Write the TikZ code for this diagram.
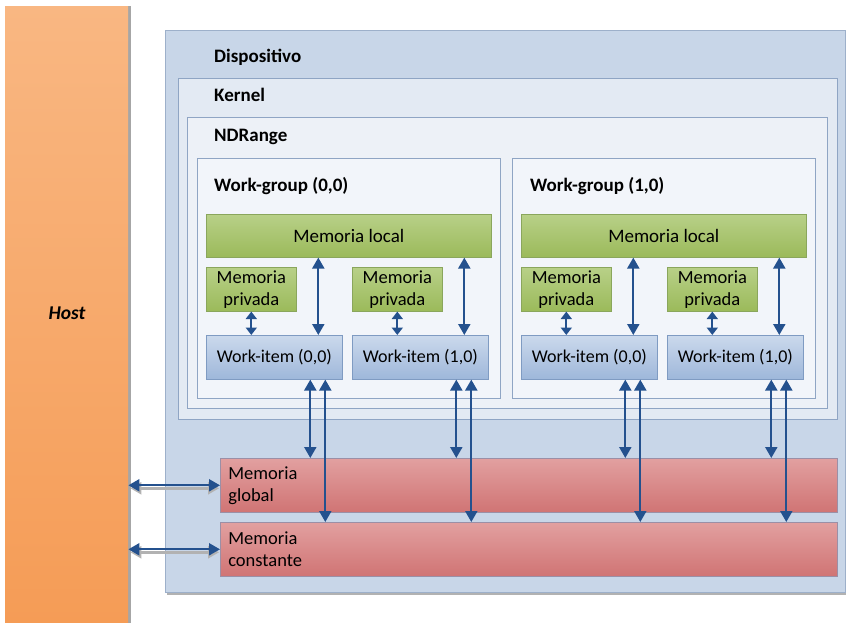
\documentclass[tikz,border=0pt]{standalone}
\usepackage{fontspec}
\setmainfont{Carlito}
\usetikzlibrary{arrows.meta,shadows}

\definecolor{arrowblue}{HTML}{24518E}
\definecolor{devfill}{HTML}{C8D6E8}
\definecolor{devdraw}{HTML}{9DB0CA}
\definecolor{kerfill}{HTML}{E3EAF3}
\definecolor{ndfill}{HTML}{EDF1F7}
\definecolor{wgfill}{HTML}{F2F5FA}
\definecolor{framedraw}{HTML}{8FA5C4}
\definecolor{greentop}{HTML}{B8D088}
\definecolor{greenbot}{HTML}{9BBA5A}
\definecolor{greendraw}{HTML}{8AA65C}
\definecolor{bluetop}{HTML}{CBD9EC}
\definecolor{bluebot}{HTML}{9EB7DA}
\definecolor{bluedraw}{HTML}{7F9BC2}
\definecolor{redtop}{HTML}{E2A0A0}
\definecolor{redbot}{HTML}{D07474}
\definecolor{reddraw}{HTML}{9B8FA6}
\definecolor{hosttop}{HTML}{F9B782}
\definecolor{hostbot}{HTML}{F59C56}

\tikzset{
  px/.style={x=1pt,y=-1pt},
  frame/.style={draw=framedraw,line width=0.6pt,anchor=north west,inner sep=0pt},
  greenbox/.style={draw=greendraw,line width=0.6pt,top color=greentop,bottom color=greenbot,
    inner sep=0pt,anchor=north west,align=center,font=\fontsize{19}{22}\selectfont},
  privbox/.style={greenbox,minimum width=90pt,minimum height=44pt,font=\fontsize{18.5}{22}\selectfont},
  itembox/.style={draw=bluedraw,line width=0.6pt,top color=bluetop,bottom color=bluebot,
    inner sep=0pt,anchor=north west,font=\fontsize{18}{21}\selectfont,
    minimum width=136pt,minimum height=44pt},
  membox/.style={draw=reddraw,line width=0.6pt,top color=redtop,bottom color=redbot,
    anchor=north west,inner xsep=8pt,inner ysep=0pt,text width=601pt,align=left,
    minimum height=54pt,font=\fontsize{18.5}{22}\selectfont},
  title/.style={anchor=west,inner sep=0pt,font=\bfseries\fontsize{19}{22}\selectfont},
  arr/.style={draw=arrowblue,line width=2.2pt,{Triangle[length=11pt,width=12pt]}-{Triangle[length=11pt,width=12pt]}},
  smallarr/.style={draw=arrowblue,line width=2.2pt,{Triangle[length=7.5pt,width=11pt]}-{Triangle[length=7.5pt,width=11pt]}},
  shadowarr/.style={draw=gray!60,line width=2.4pt,{Triangle[length=11pt,width=12pt]}-{Triangle[length=11pt,width=12pt]}},
}

\begin{document}
\begin{tikzpicture}[px]
\useasboundingbox (0,0) rectangle (846,623);

% host column
\node[anchor=north west,inner sep=0pt,minimum width=123pt,minimum height=617pt,
  top color=hosttop,bottom color=hostbot,
  drop shadow={shadow xshift=3pt,shadow yshift=0pt,fill=gray!70,opacity=1}] (host) at (5,6) {};
\node[font=\bfseries\itshape\fontsize{19.5}{22}\selectfont] (hostlbl) at (67,313) {Host};

% nested containers
\node[frame,draw=devdraw,fill=devfill,minimum width=680pt,minimum height=562pt,
  drop shadow={shadow xshift=2pt,shadow yshift=-3pt,fill=gray!60,opacity=1}] (dev) at (165,30) {};
\node[frame,fill=kerfill,minimum width=659pt,minimum height=341pt] (ker) at (178,78) {};
\node[frame,fill=ndfill,minimum width=640pt,minimum height=291pt] (nd) at (187,117) {};
\node[frame,fill=wgfill,minimum width=303pt,minimum height=240pt] (wga) at (197,158) {};
\node[frame,fill=wgfill,minimum width=303pt,minimum height=240pt] (wgb) at (512,158) {};

\node[title] (tdev) at (214,57) {Dispositivo};
\node[title] (tker) at (214,95) {Kernel};
\node[title] (tnd) at (214,137) {NDRange};
\node[title] (twga) at (214,186) {Work-group (0,0)};
\node[title] (twgb) at (530,186) {Work-group (1,0)};

% work-group (0,0)
\node[greenbox,minimum width=285pt,minimum height=43pt] (loca) at (206,214) {Memoria local};
\node[privbox] (pra) at (206,267) {Memoria\\privada};
\node[privbox] (prb) at (352,267) {Memoria\\privada};
\node[itembox] (wia) at (206,335) {Work-item (0,0)};
\node[itembox] (wib) at (352,335) {Work-item (1,0)};

% work-group (1,0)
\node[greenbox,minimum width=285pt,minimum height=43pt] (locb) at (521,214) {Memoria local};
\node[privbox] (prc) at (521,267) {Memoria\\privada};
\node[privbox] (prd) at (667,267) {Memoria\\privada};
\node[itembox] (wic) at (521,335) {Work-item (0,0)};
\node[itembox] (wid) at (667,335) {Work-item (1,0)};

% device memories
\node[membox] (glob) at (220,458) {Memoria\\global};
\node[membox] (const) at (220,522) {Memoria\\constante};

% private memory <-> work-item
\foreach \p/\w in {pra/wia,prb/wib,prc/wic,prd/wid}
  \draw[smallarr] (\p.south) -- (\p.south |- \w.north);

% local memory <-> work-item
\foreach \l/\w in {loca/wia,loca/wib,locb/wic,locb/wid}
  \draw[arr] ([xshift=44pt]\w.north |- \l.south) -- ([xshift=44pt]\w.north);

% work-item <-> global / constant memory
\foreach \w in {wia,wib,wic,wid}{
  \draw[arr] ([xshift=36pt]\w.south) -- ([xshift=36pt]\w.south |- glob.north);
  \draw[arr] ([xshift=51pt]\w.south) -- ([xshift=51pt]\w.south |- const.north);
}

% host <-> device memories, each with a soft grey shadow below
\foreach \m in {glob,const}{
  \draw[shadowarr] ([xshift=2pt,yshift=-3pt]host.east |- \m.west) -- ([xshift=-1pt,yshift=-3pt]\m.west);
  \draw[arr] (host.east |- \m.west) -- (\m.west);
}
\end{tikzpicture}
\end{document}
